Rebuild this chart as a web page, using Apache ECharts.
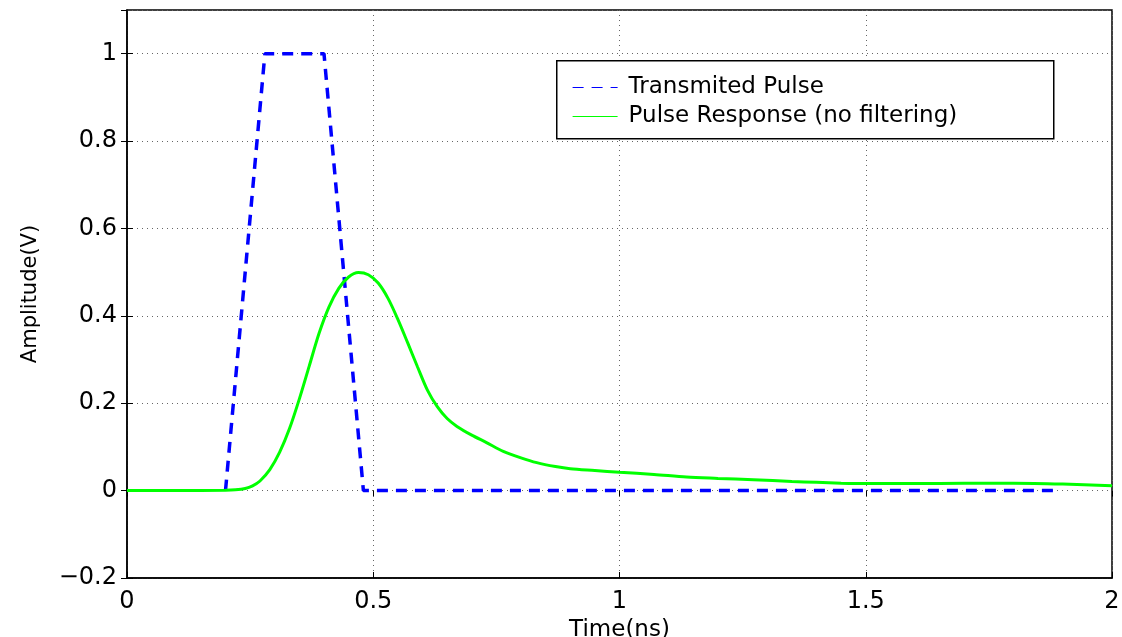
<!DOCTYPE html>
<html>
<head>
<meta charset="utf-8">
<script src="https://cdn.jsdelivr.net/npm/echarts@6/dist/echarts.min.js"></script>
<style>
  html, body { margin: 0; padding: 0; background: #fff; }
  #main { width: 1122px; height: 637px; }
</style>
</head>
<body>
<div id="main"></div>
<script>
// ---------------- data ----------------
var pulseT = [0.2, 0.28, 0.4, 0.48, 1.88];
var pulseV = [0, 1, 1, 0, 0];

var respT = [0, 0.1, 0.2, 0.22, 0.24, 0.255, 0.27, 0.29, 0.31, 0.33, 0.35, 0.37, 0.39, 0.41, 0.43, 0.45, 0.47,
    0.49, 0.51, 0.53, 0.55, 0.57, 0.59, 0.61, 0.63, 0.65, 0.67, 0.70, 0.73, 0.764, 0.8, 0.832, 0.87, 0.9,
    0.95, 1.0, 1.07, 1.136, 1.2, 1.272, 1.35, 1.4, 1.45, 1.5, 1.6, 1.7, 1.8, 1.9, 2.0];
var respV = [0, 0, 0.001, 0.002, 0.005, 0.011, 0.022, 0.048, 0.088, 0.142, 0.21, 0.285, 0.36, 0.42, 0.463, 0.489, 0.499,
    0.494, 0.475, 0.44, 0.392, 0.338, 0.283, 0.23, 0.192, 0.165, 0.147, 0.127, 0.11, 0.09, 0.075, 0.064, 0.055, 0.05,
    0.046, 0.042, 0.037, 0.031, 0.028, 0.025, 0.021, 0.019, 0.017, 0.016, 0.016, 0.017, 0.017, 0.015, 0.011];

var seriesNames = ['Transmited Pulse', 'Pulse Response (no filtering)'];

function pairs(xs, ys) {
    var out = [];
    for (var i = 0; i < xs.length; i++) {
        out.push([xs[i], ys[i]]);
    }
    return out;
}

var FONT = 'DejaVu Sans';
var gridLine = { show: true, lineStyle: { type: [1, 4], color: '#666', width: 1 } };

var myChart = echarts.init(document.getElementById('main'));
var option = {
    backgroundColor: '#fff',
    animation: false,
    grid: {
        left: 127, right: 10, top: 10, bottom: 59,
        outerBoundsMode: 'none',
        containLabel: false,
        show: true, borderColor: '#000', borderWidth: 1.5, backgroundColor: 'transparent'
    },
    graphic: [{
        type: 'rect',
        left: 556, top: 60,
        shape: { width: 497, height: 78 },
        style: { fill: '#fff', stroke: '#000', lineWidth: 1.5 },
        z: 10
    }],
    legend: {
        orient: 'vertical',
        left: 567, top: 71,
        itemWidth: 45, itemHeight: 14, itemGap: 6,
        itemStyle: { opacity: 0 },
        lineStyle: { width: 1.2 },
        textStyle: { fontFamily: FONT, fontSize: 23, color: '#000', lineHeight: 23, padding: [0, 0, 0, 6] },
        data: seriesNames,
        z: 11
    },
    xAxis: [{
        type: 'value',
        min: 0, max: 2, interval: 0.5,
        name: 'Time(ns)',
        nameLocation: 'middle',
        nameGap: 38,
        nameTextStyle: { fontFamily: FONT, fontSize: 23, color: '#000' },
        axisLine: { onZero: false, lineStyle: { color: '#000', width: 1.5 } },
        axisTick: { inside: true, length: 6, lineStyle: { color: '#000' } },
        axisLabel: { fontFamily: FONT, fontSize: 24, color: '#000', margin: 12 },
        splitLine: gridLine
    }, {
        type: 'value', position: 'top',
        min: 0, max: 2, interval: 0.5,
        axisLine: { show: false },
        axisTick: { inside: true, length: 6, lineStyle: { color: '#000' } },
        axisLabel: { show: false },
        splitLine: { show: false }
    }],
    yAxis: [{
        type: 'value',
        min: -0.2, max: 1.1, interval: 0.2,
        name: 'Amplitude(V)',
        nameLocation: 'middle',
        nameGap: 86,
        nameTextStyle: { fontFamily: FONT, fontSize: 21, color: '#000' },
        axisLine: { onZero: false, lineStyle: { color: '#000', width: 1.5 } },
        axisTick: { inside: true, length: 6, lineStyle: { color: '#000' } },
        axisLabel: {
            fontFamily: FONT, fontSize: 24, color: '#000', margin: 10,
            showMaxLabel: false,
            formatter: function (v) {
                var s = String(Math.round(v * 10) / 10);
                return s.replace('-', '\u2212');
            }
        },
        splitLine: gridLine
    }, {
        type: 'value', position: 'right',
        min: -0.2, max: 1.1, interval: 0.2,
        axisLine: { show: false },
        axisTick: { show: true, inside: true, length: 6, lineStyle: { color: '#000' } },
        axisLabel: { show: false },
        splitLine: { show: false }
    }],
    series: [{
        name: seriesNames[0],
        type: 'line',
        symbol: 'none',
        data: pairs(pulseT, pulseV),
        lineStyle: { color: '#0000ff', width: 3.5, type: [11, 8] },
        itemStyle: { color: '#0000ff' },
        z: 2
    }, {
        name: seriesNames[1],
        type: 'line',
        symbol: 'none',
        smooth: 0.3,
        data: pairs(respT, respV),
        lineStyle: { color: '#00ff00', width: 3 },
        itemStyle: { color: '#00ff00' },
        z: 3
    }]
};
myChart.setOption(option);
</script>
</body>
</html>
